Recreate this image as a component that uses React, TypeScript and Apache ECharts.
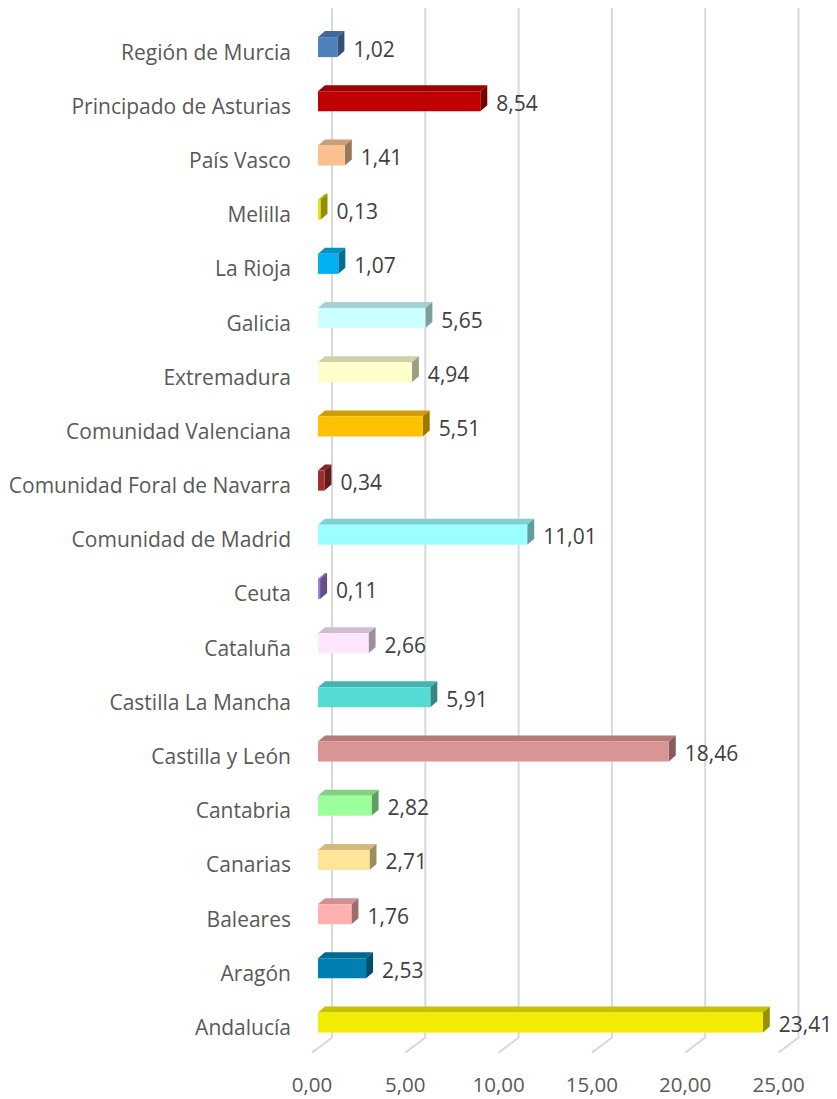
import React, { useEffect, useRef } from "react";
import * as echarts from "echarts";

const categories = [
  "Andalucía",
  "Aragón",
  "Baleares",
  "Canarias",
  "Cantabria",
  "Castilla y León",
  "Castilla La Mancha",
  "Cataluña",
  "Ceuta",
  "Comunidad de Madrid",
  "Comunidad Foral de Navarra",
  "Comunidad Valenciana",
  "Extremadura",
  "Galicia",
  "La Rioja",
  "Melilla",
  "País Vasco",
  "Principado de Asturias",
  "Región de Murcia",
];

const values = [
  23.41, 2.53, 1.76, 2.71, 2.82, 18.46, 5.91, 2.66, 0.11, 11.01, 0.34, 5.51, 4.94, 5.65, 1.07, 0.13, 1.41, 8.54, 1.02,
];

const barColors = [
  "#f2ec00",
  "#0080b0",
  "#ffb0b0",
  "#ffe397",
  "#9cff9c",
  "#d99594",
  "#55dad4",
  "#ffe6ff",
  "#a27ed6",
  "#9cffff",
  "#a02c2c",
  "#ffc000",
  "#ffffcc",
  "#ccffff",
  "#00b0f0",
  "#e6e600",
  "#fac090",
  "#c00000",
  "#4f81bd",
];

const xTicks = [0, 5, 10, 15, 20, 25];

const fmt = (v: number) => v.toFixed(2).replace(".", ",");

function shade(hex: string, f: number) {
  const n = parseInt(hex.slice(1), 16);
  const r = Math.round(((n >> 16) & 255) * f);
  const g = Math.round(((n >> 8) & 255) * f);
  const b = Math.round((n & 255) * f);
  return `rgb(${r},${g},${b})`;
}

const FONT = "'Open Sans', sans-serif";

export default function App() {
  const ref = useRef<HTMLDivElement>(null);
  useEffect(() => {
    document.body.style.margin = "0";
    const chart = echarts.init(ref.current!, null, { renderer: "svg" });
    const DX = 7;
    const DY = 6;
    const H = 20;
    const option: any = {
      animation: false,
      backgroundColor: "#ffffff",
      grid: { left: 318, top: 20, width: 466.5, height: 1029.6, containLabel: false },
      xAxis: [
        {
          type: "value",
          min: 0,
          max: 25,
          interval: 5,
          axisLine: { show: false },
          axisTick: { show: false },
          splitLine: { show: false },
          axisLabel: {
            show: true,
            margin: 24,
            color: "#595959",
            fontSize: 20.5,
            fontFamily: FONT,
            padding: [0, 12, 0, 0],
            formatter: (v: number) => fmt(v),
          },
        },
        {
          // front plane of the bars (perspective makes it slightly wider)
          type: "value",
          min: 0,
          max: 24.55,
          show: false,
          splitLine: { show: false },
        },
      ],
      yAxis: {
        type: "category",
        data: categories,
        axisLine: { show: false },
        axisTick: { show: false },
        splitLine: { show: false },
        axisLabel: {
          margin: 27,
          color: "#595959",
          fontSize: 21,
          fontFamily: FONT,
          verticalAlign: "top",
          lineHeight: 9,
        },
      },
      series: [
        {
          type: "custom",
          silent: true,
          xAxisIndex: 0,
          data: xTicks.map((t) => [t, 0]),
          encode: { x: 0, y: 1 },
          renderItem: (params: any, api: any) => {
            const cs = params.coordSys;
            const fx = api.coord([api.value(0), 0])[0];
            const bx = fx + 14;
            const top = cs.y - 12;
            const bottom = cs.y + cs.height - 12;
            return {
              type: "polyline",
              shape: {
                points: [
                  [bx, top],
                  [bx, bottom],
                  [bx - 20, bottom + 15],
                ],
              },
              style: { stroke: "#d9d9d9", lineWidth: 2, fill: "none" },
            };
          },
          z: 1,
        },
        {
          type: "custom",
          xAxisIndex: 1,
          data: values.map((v, i) => [v, i]),
          encode: { x: 0, y: 1 },
          renderItem: (params: any, api: any) => {
            const v = api.value(0);
            const idx = api.value(1);
            const p1 = api.coord([v, idx]);
            const x0 = api.coord([0, idx])[0];
            const x1 = p1[0];
            const yc = p1[1];
            const c = barColors[idx];
            const yt = yc - H / 2;
            const yb = yc + H / 2;
            return {
              type: "group",
              children: [
                {
                  type: "polygon",
                  shape: {
                    points: [
                      [x0, yt],
                      [x0 + DX, yt - DY],
                      [x1 + DX, yt - DY],
                      [x1, yt],
                    ],
                  },
                  style: { fill: shade(c, 0.82) },
                },
                {
                  type: "polygon",
                  shape: {
                    points: [
                      [x1, yt],
                      [x1 + DX, yt - DY],
                      [x1 + DX, yb - DY],
                      [x1, yb],
                    ],
                  },
                  style: { fill: shade(c, 0.62) },
                },
                {
                  type: "rect",
                  shape: { x: x0, y: yt, width: Math.max(x1 - x0, 1), height: H },
                  style: { fill: c },
                },
                {
                  type: "text",
                  x: x1 + DX + 9,
                  y: yc + 1.5,
                  style: {
                    text: fmt(v),
                    fill: "#404040",
                    fontSize: 21,
                    fontFamily: FONT,
                    align: "left",
                    verticalAlign: "middle",
                  },
                },
              ],
            };
          },
          z: 2,
        },
      ],
    };
    chart.setOption(option);
    return () => chart.dispose();
  }, []);
  return <div ref={ref} style={{ width: 837, height: 1099 }} />;
}
